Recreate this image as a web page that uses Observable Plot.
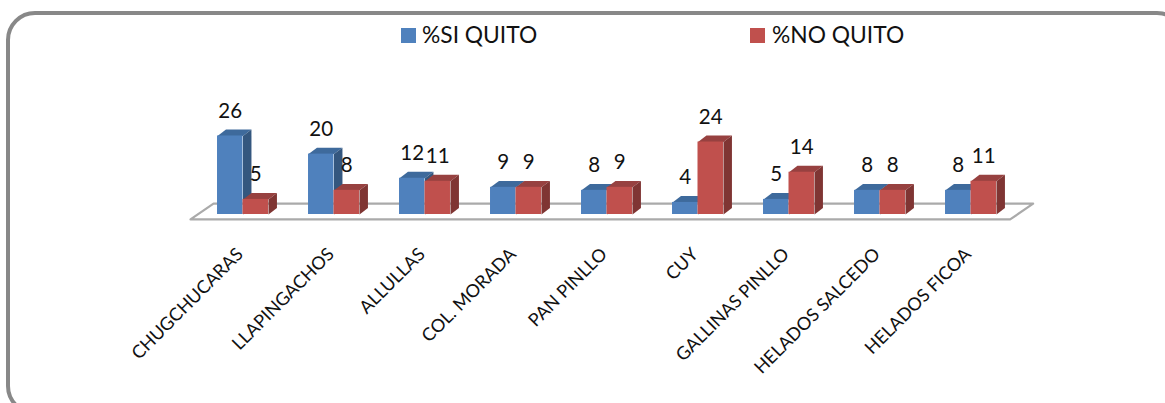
<!DOCTYPE html>
<html><head><meta charset="utf-8">
<style>
html,body{margin:0;padding:0;width:1165px;height:403px;overflow:hidden;background:#fff;font-family:Lato,sans-serif}
#frame{position:absolute;left:6px;top:11px;width:1172px;height:396px;border:4px solid #888;border-radius:29px;box-sizing:content-box}
#chart{position:absolute;left:0;top:0}
.lg{position:absolute;top:20px;font-size:22.8px;line-height:28px;color:#111;white-space:nowrap}
.sw{position:absolute;top:28px;width:15px;height:15px}
</style>
<script src="https://cdn.jsdelivr.net/npm/d3@7"></script>
<script src="https://cdn.jsdelivr.net/npm/@observablehq/plot@0.6"></script>
</head><body>
<div id="frame"></div>
<div id="chart"></div>
<div class="sw" style="left:401px;background:#4f81bd"></div><div class="lg" style="left:422px">%SI QUITO</div>
<div class="sw" style="left:750px;background:#c0504d"></div><div class="lg" style="left:772px">%NO QUITO</div>
<script>
const categories = ["CHUGCHUCARAS","LLAPINGACHOS","ALLULLAS","COL. MORADA","PAN PINLLO","CUY","GALLINAS PINLLO","HELADOS SALCEDO","HELADOS FICOA"];
const siQuito = [26,20,12,9,8,4,5,8,8];
const noQuito = [5,8,11,9,9,24,14,8,11];
const colorsSi = {front:"#4f81bd",top:"#3e6a9c",side:"#34577f"};
const colorsNo = {front:"#c0504d",top:"#974140",side:"#7f3533"};
const barW = 0.28, depthX = 0.093, depthY = 2.13;

function bars(vals, off, c){
  const rows = vals.map((v,i)=>({i,v,x1:i+off,x2:i+off+barW}));
  const poly = (pts)=>rows.flatMap(r=>pts(r).map(([x,y])=>({id:r.i,x,y})));
  const top = poly(r=>[[r.x1,r.v],[r.x2,r.v],[r.x2+depthX,r.v+depthY],[r.x1+depthX,r.v+depthY]]);
  const side = poly(r=>[[r.x2,0],[r.x2,r.v],[r.x2+depthX,r.v+depthY],[r.x2+depthX,depthY]]);
  const face = {x:"x",y:"y",z:"id",strokeWidth:0,curve:"linear-closed"};
  return [
    Plot.line(top,{...face,fill:c.top}),
    Plot.line(side,{...face,fill:c.side}),
    Plot.rectY(rows,{x1:"x1",x2:"x2",y1:0,y2:"v",fill:c.front,inset:0}),
    Plot.text(rows,{x:d=>d.x1+barW/2,y:"v",text:d=>String(d.v),dy:-25,fontSize:20.5,fill:"#111",lineAnchor:"middle"})
  ];
}
const floorPadL = 0.577, floorPadR = 0.43, floorFront = -1.64, floorBack = 3.6, floorSkew = 0.253;
const n = categories.length - 1;
const floor = [
  {x:-floorPadL,y:floorFront},{x:-floorPadL+floorSkew,y:floorBack},
  {x:n+floorPadR+floorSkew,y:floorBack},{x:n+floorPadR,y:floorFront}
];
const chart = Plot.plot({
  width:1165,height:403,margin:0,
  style:{background:"transparent",fontFamily:"Lato,sans-serif"},
  x:{type:"linear",domain:[0,n],range:[242.5,970.5],axis:null},
  y:{type:"linear",domain:[0,26],range:[214,135.5],axis:null},
  marks:[
    Plot.line(floor,{x:"x",y:"y",stroke:"#aaa",strokeWidth:2.2,fill:"none",curve:"linear-closed"}),
    ...bars(siQuito,-barW,colorsSi),
    ...bars(noQuito,0,colorsNo),
    Plot.text(categories,{x:(d,i)=>i,y:()=>-12.2,text:d=>d,rotate:-45,textAnchor:"end",lineAnchor:"middle",dx:-3,fontSize:18,fill:"#111"})
  ]
});
document.getElementById("chart").appendChild(chart);
</script>
</body></html>
